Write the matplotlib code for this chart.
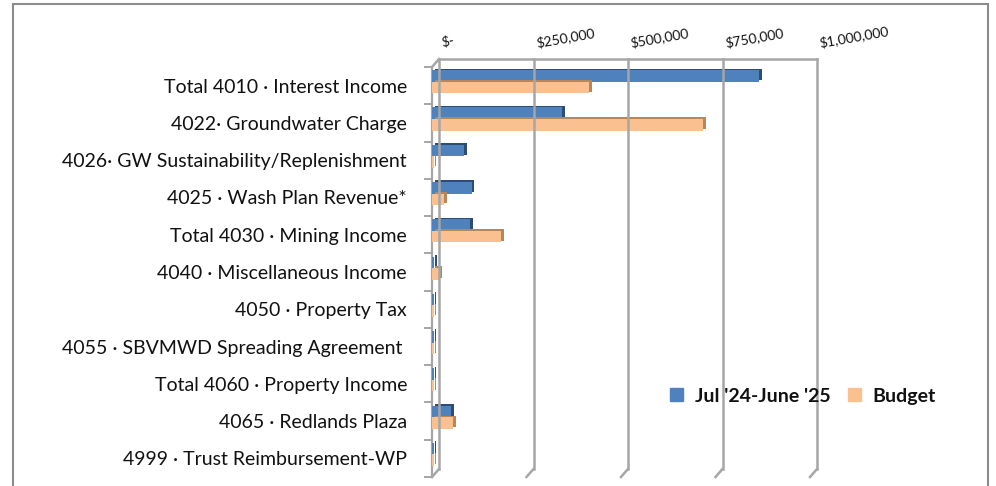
import matplotlib.pyplot as plt
import matplotlib.patheffects as pe
from matplotlib.lines import Line2D
from matplotlib.patches import Patch, Rectangle
from matplotlib.transforms import IdentityTransform

plt.rcParams['font.family'] = ['Lato', 'DejaVu Sans']

categories = [
    "Total 4010 · Interest Income",
    "4022· Groundwater Charge",
    "4026· GW Sustainability/Replenishment",
    "4025 · Wash Plan Revenue*",
    "Total 4030 · Mining Income",
    "4040 · Miscellaneous Income",
    "4050 · Property Tax",
    "4055 · SBVMWD Spreading Agreement ",
    "Total 4060 · Property Income",
    "4065 · Redlands Plaza",
    "4999 · Trust Reimbursement-WP",
]
actual = [865000, 345000, 85000, 105000, 100000, 5000, 4000, 4000, 4000, 50000, 4000]
budget = [415000, 718000, 4000, 33000, 182000, 20000, 4000, 4000, 4000, 56000, 4000]
series_names = ["Jul '24-June '25", "Budget"]
tick_vals = [0, 250000, 500000, 750000, 1000000]
tick_text = ["$-", "$250,000", "$500,000", "$750,000", "$1,000,000"]

blue, blue_side = '#4F81BD', '#2C4D75'
tan, tan_side = '#FAC090', '#B9865A'
grid_c = '#A6A6A6'

fig = plt.figure(figsize=(9.96, 4.86), dpi=100)
# front plane of the 3d plot
ax = fig.add_axes([432 / 996, 9 / 486, 378 / 996, 410 / 486])
ax.set_xlim(0, 1000000)
ax.set_ylim(len(categories) - 0.5, -0.5)

y = list(range(len(categories)))
ax.barh([i - 0.26 for i in y], actual, height=0.31, color=blue, zorder=3,
        path_effects=[pe.SimplePatchShadow(offset=(2, 1.2), shadow_rgbFace=blue_side, alpha=1), pe.Normal()])
ax.barh([i + 0.05 for i in y], budget, height=0.31, color=tan, zorder=3,
        path_effects=[pe.SimplePatchShadow(offset=(2, 1.2), shadow_rgbFace=tan_side, alpha=1), pe.Normal()])

for s in ['top', 'right', 'bottom']:
    ax.spines[s].set_visible(False)
ax.spines['left'].set_color(grid_c)
ax.spines['left'].set_linewidth(1.6)
ax.set_xticks([])
ax.set_yticks(y)
ax.set_yticklabels(categories, fontsize=14, color='#111111')
ax.tick_params(axis='y', which='major', length=0, pad=18)
ax.set_yticks([i - 0.5 for i in range(len(categories) + 1)], minor=True)
ax.tick_params(axis='y', which='minor', length=6, color=grid_c, width=1.4)
ax.patch.set_visible(False)

# back wall with gridlines, shifted right/up
dx, dy = 7, 8
ident = IdentityTransform()
top_y, bot_y = -0.5, len(categories) - 0.5
for v in tick_vals:
    fx, fb = ax.transData.transform((v, bot_y))
    _, ft = ax.transData.transform((v, top_y))
    fig.add_artist(Line2D([fx + dx, fx + dx], [fb + dy, ft + dy], transform=ident,
                          color=grid_c, lw=1.8, zorder=1))
    fig.add_artist(Line2D([fx, fx + dx], [fb, fb + dy], transform=ident,
                          color=grid_c, lw=1.8, zorder=1))
x0, yt = ax.transData.transform((0, top_y))
x1, _ = ax.transData.transform((tick_vals[-1], top_y))
fig.add_artist(Line2D([x0 + dx, x1 + dx], [yt + dy, yt + dy], transform=ident, color=grid_c, lw=1.8, zorder=1))
fig.add_artist(Line2D([x0, x0 + dx], [yt, yt + dy], transform=ident, color=grid_c, lw=1.8, zorder=1))

# value labels along the top, slightly tilted
for v, t in zip(tick_vals, tick_text):
    fx, _ = ax.transData.transform((v, top_y))
    fig.text((fx + dx + 3) / 996, (yt + dy + 12) / 486, t, fontsize=10, rotation=10,
             rotation_mode='anchor', ha='left', va='baseline', color='#111111')

handles = [Patch(color=blue), Patch(color=tan)]
fig.legend(handles, series_names, loc='center', bbox_to_anchor=(803 / 996, 90 / 486), ncol=2,
           frameon=False, prop={'weight': 'bold', 'size': 14}, handlelength=0.65, handleheight=0.65,
           handletextpad=0.6, columnspacing=0.9, labelcolor='#111111')

fig.add_artist(Rectangle((13 / 996, -0.05), 975 / 996, 1.05 - 4 / 486, transform=fig.transFigure,
                         fill=False, edgecolor='#8C8C8C', lw=1.5))

plt.savefig('out.png', dpi=100)
